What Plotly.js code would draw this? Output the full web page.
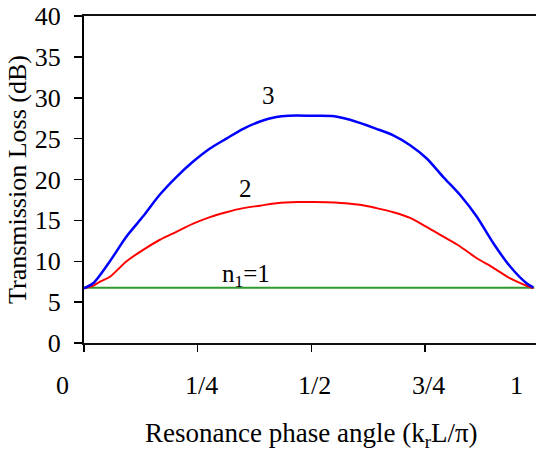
<!DOCTYPE html>
<html>
<head>
<meta charset="utf-8">
<script src="https://cdn.plot.ly/plotly-3.0.1.min.js"></script>
<style>html,body{margin:0;padding:0;background:#fff;}#chart{width:536px;height:455px;}</style>
</head>
<body>
<div id="chart"></div>
<script>
// Data
var xBlue = [0, 0.02, 0.057, 0.093, 0.13, 0.166, 0.203, 0.24, 0.277, 0.313, 0.35, 0.387, 0.423, 0.45, 0.5, 0.55, 0.585, 0.643, 0.68, 0.717, 0.753, 0.79, 0.827, 0.863, 0.9, 0.937, 0.973, 0.988];
var yBlue = [6.7, 7.3, 10.0, 13.0, 15.5, 18.1, 20.3, 22.2, 23.8, 25.0, 26.2, 27.1, 27.65, 27.8, 27.8, 27.75, 27.3, 26.2, 25.4, 24.2, 22.6, 20.3, 18.1, 15.5, 12.2, 9.35, 7.3, 6.8];
var xRed = [0, 0.02, 0.035, 0.057, 0.093, 0.13, 0.166, 0.203, 0.24, 0.277, 0.313, 0.35, 0.387, 0.423, 0.47, 0.5, 0.55, 0.607, 0.643, 0.68, 0.717, 0.753, 0.79, 0.827, 0.863, 0.9, 0.937, 0.973, 0.988];
var yRed = [6.7, 7.0, 7.5, 8.1, 9.97, 11.4, 12.6, 13.6, 14.6, 15.4, 16.0, 16.5, 16.8, 17.1, 17.25, 17.25, 17.2, 16.9, 16.5, 16.0, 15.3, 14.2, 13.0, 11.8, 10.4, 9.2, 7.9, 7.0, 6.7];
var xGreen = [0, 0.99];
var yGreen = [6.75, 6.75];

var xTickVals = [0, 0.25, 0.5, 0.75, 1];
var xTickText = ['0', '1/4', '1/2', '3/4', '1'];
var yTickVals = [0, 5, 10, 15, 20, 25, 30, 35, 40];

var curveLabels = ['3', '2', 'n<sub>1</sub>=1'];
var curveLabelX = [0.405, 0.355, 0.356];
var curveLabelY = [30.3, 18.9, 8.3];

var xRange = [0, 0.9938];
var font = 'Liberation Serif';

var traces = [
  {x: xGreen, y: yGreen, mode: 'lines', line: {color: '#2e9a2e', width: 2}, hoverinfo: 'skip'},
  {x: xRed, y: yRed, mode: 'lines', line: {color: '#ff0000', width: 2, shape: 'spline', smoothing: 0.8}, hoverinfo: 'skip'},
  {x: xBlue, y: yBlue, mode: 'lines', line: {color: '#0000ff', width: 2.5, shape: 'spline', smoothing: 0.8}, hoverinfo: 'skip'}
];

var labelShift = [-22, 4, 3, 3, -22];
var annotations = [];
xTickVals.forEach(function (v, i) {
  annotations.push({
    xref: 'paper', yref: 'paper',
    x: (v - xRange[0]) / (xRange[1] - xRange[0]), y: 0,
    xshift: labelShift[i], yshift: -42,
    text: xTickText[i], showarrow: false,
    xanchor: 'center', yanchor: 'middle',
    font: {family: font, size: 26, color: '#000'}
  });
});
curveLabels.forEach(function (t, i) {
  annotations.push({
    xref: 'x', yref: 'y', x: curveLabelX[i], y: curveLabelY[i],
    text: t, showarrow: false, xanchor: 'center', yanchor: 'middle',
    font: {family: font, size: 25, color: '#000'}
  });
});
annotations.push({
  xref: 'paper', yref: 'paper', x: (0.5 - xRange[0]) / (xRange[1] - xRange[0]), y: 0,
  yshift: -92, text: 'Resonance phase angle (k<sub>r</sub>L/π)', showarrow: false,
  xanchor: 'center', yanchor: 'middle',
  font: {family: font, size: 27, color: '#000'}
});

var layout = {
  width: 536, height: 455,
  margin: {l: 84, r: 0, t: 16, b: 112},
  paper_bgcolor: '#fff', plot_bgcolor: '#fff',
  showlegend: false,
  font: {family: font, size: 26, color: '#000'},
  xaxis: {
    range: xRange, tickvals: xTickVals, showticklabels: false,
    ticks: 'outside', ticklen: 7, tickwidth: 1.5, tickcolor: '#000',
    showline: true, linecolor: '#111', linewidth: 2, mirror: true,
    showgrid: false, zeroline: false, fixedrange: true
  },
  yaxis: {
    range: [0, 40], tickvals: yTickVals,
    ticks: 'outside', ticklen: 8, tickwidth: 1.5, tickcolor: '#000',
    ticklabelstandoff: 8,
    tickfont: {family: font, size: 26, color: '#000'},
    showline: true, linecolor: '#000', linewidth: 2,
    showgrid: false, zeroline: false, fixedrange: true,
    title: {text: 'Transmission Loss (dB)', font: {family: font, size: 26, color: '#000'}, standoff: 1}
  },
  annotations: annotations
};

Plotly.newPlot('chart', traces, layout, {displayModeBar: false, staticPlot: true});
</script>
</body>
</html>
